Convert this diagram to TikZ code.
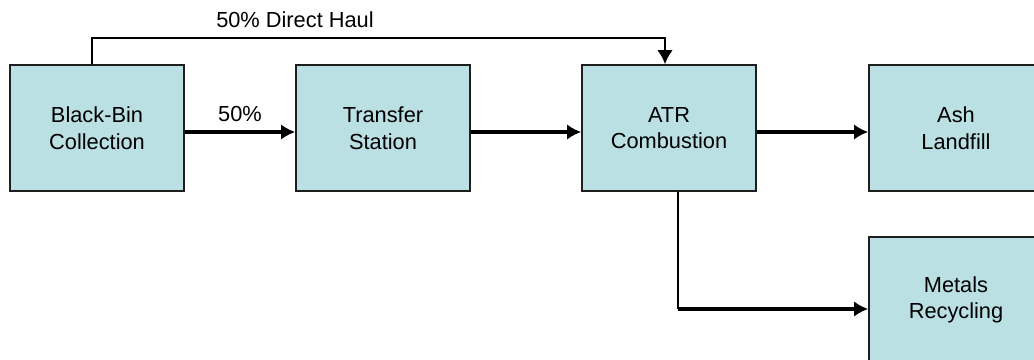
\documentclass[tikz,border=0pt]{standalone}
\usepackage{fontspec}
\setmainfont{Liberation Sans}
\usetikzlibrary{calc, arrows.meta, positioning}
\definecolor{boxfill}{RGB}{187,224,227}
\definecolor{boxline}{RGB}{30,30,30}

\tikzset{
	stage/.style={rectangle, draw=boxline, line width=1.1pt, fill=boxfill, minimum width=4.35cm, minimum height=3.15cm, align=center, font=\fontsize{15.5}{19}\selectfont},
	flow/.style={-{Latex[length=10pt, width=11pt]}, line width=2.2pt},
	haul/.style={-{Latex[length=10pt, width=11pt]}, line width=1.4pt},
	tag/.style={font=\fontsize{15.5}{19}\selectfont}
}

\begin{document}
\begin{tikzpicture}[x=0.025cm, y=-0.025cm]
	\clip (0,0) rectangle (1034,360);
	% process boxes
	\node[stage] (bin) at (97,128) {Black-Bin\\Collection};
	\node[stage] (transfer) at (383,128) {Transfer\\Station};
	\node[stage] (atr) at (669,128) {ATR\\Combustion};
	\node[stage] (ash) at (956,128) {Ash\\Landfill};
	\node[stage] (metals) at (956,300) {Metals\\Recycling};

	% main flow
	\draw[flow] ([yshift=-0.1cm]bin.east) -- ([yshift=-0.1cm]transfer.west) node[tag, midway, above=3pt] {50\%};
	\draw[flow] ([yshift=-0.1cm]transfer.east) -- ([yshift=-0.1cm]atr.west);
	\draw[flow] ([yshift=-0.1cm]atr.east) -- ([yshift=-0.1cm]ash.west);

	% direct haul over the top
	\coordinate (up) at (92,38);
	\draw[haul] ([xshift=-0.125cm]bin.north) |- (up) -| ([xshift=-0.1cm]atr.north);
	\node[tag] (direct) at (295,20) {50\% Direct Haul};

	% ash metals out
	\coordinate (bend) at (678,309);
	\draw[line width=1.4pt] ([xshift=0.225cm]atr.south) -- (bend);
	\draw[flow] (bend) -- (bend -| metals.west);
\end{tikzpicture}
\end{document}
